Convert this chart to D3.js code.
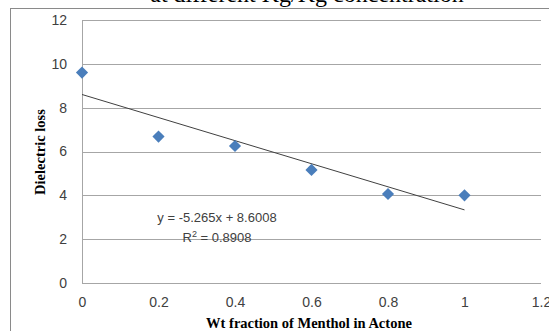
<!DOCTYPE html>
<html>
<head>
<meta charset="utf-8">
<script src="https://cdn.jsdelivr.net/npm/d3@7"></script>
<style>
  body { margin: 0; background: #fff; }
  svg { display: block; }
</style>
</head>
<body>
<svg id="chart" width="549" height="331"></svg>
<script>
// data
const fracoes = [0, 0.2, 0.4, 0.6, 0.8, 1];
const perdas = [9.6, 6.68, 6.25, 5.16, 4.06, 4.0];
const ticks_x = [0, 0.2, 0.4, 0.6, 0.8, 1, 1.2];
const ticks_y = [0, 2, 4, 6, 8, 10, 12];
const tendencia = { inclinacao: -5.265, intercepto: 8.6008, r2: 0.8908 };
const titulo = "at different Kg/Kg concentration";
const titulo_x = "Wt fraction of Menthol in Actone";
const titulo_y = "Dielectric loss";

const svg = d3.select("#chart");

const area = { esq: 82, dir: 541, topo: 20, base: 283 };

const x = d3.scaleLinear().domain([0, 1.2]).range([area.esq, area.dir]);
const y = d3.scaleLinear().domain([0, 12]).range([area.base, area.topo]);

// title, cut by the top edge as in the source
svg.append("text")
  .attr("x", 307)
  .attr("y", 2)
  .attr("text-anchor", "middle")
  .attr("font-family", "'Liberation Serif', serif")
  .attr("font-size", 24)
  .attr("fill", "#000")
  .text(titulo);

// outer chart frame
svg.append("rect")
  .attr("x", 10.5).attr("y", 8.5)
  .attr("width", 600).attr("height", 400)
  .attr("fill", "none")
  .attr("stroke", "#8a8a8a")
  .attr("stroke-width", 1);

// gridlines + y labels
const eixo_y = d3.axisLeft(y)
  .tickValues(ticks_y)
  .tickSize(-(area.dir - area.esq))
  .tickPadding(15)
  .tickFormat(d3.format("d"));

const gy = svg.append("g")
  .attr("transform", `translate(${area.esq},0)`)
  .call(eixo_y);

gy.select(".domain").remove();
gy.selectAll(".tick line")
  .attr("stroke", "#a6a6a6")
  .attr("shape-rendering", "crispEdges");
gy.selectAll(".tick text")
  .attr("font-family", "'Liberation Sans', sans-serif")
  .attr("font-size", 14)
  .attr("fill", "#404040");

// left axis line
svg.append("line")
  .attr("x1", area.esq).attr("x2", area.esq)
  .attr("y1", area.topo).attr("y2", area.base)
  .attr("stroke", "#a6a6a6")
  .attr("shape-rendering", "crispEdges");

const eixo_x = d3.axisBottom(x)
  .tickValues(ticks_x)
  .tickSize(0)
  .tickPadding(14)
  .tickFormat(d => d3.format("")(d));

const gx = svg.append("g")
  .attr("transform", `translate(0,${area.base})`)
  .call(eixo_x);

gx.select(".domain").remove();
gx.selectAll(".tick text")
  .attr("font-family", "'Liberation Sans', sans-serif")
  .attr("font-size", 14)
  .attr("fill", "#404040");

// trendline
svg.append("line")
  .attr("x1", x(0))
  .attr("y1", y(tendencia.intercepto))
  .attr("x2", x(1))
  .attr("y2", y(tendencia.intercepto + tendencia.inclinacao))
  .attr("stroke", "#404040")
  .attr("stroke-width", 1);

// markers (Excel diamonds)
svg.append("g")
  .selectAll("path")
  .data(fracoes.map((f, i) => ({ f: f, v: perdas[i] })))
  .join("path")
  .attr("d", d3.symbol().type(d3.symbolSquare).size(74))
  .attr("transform", d => `translate(${x(d.f)},${y(d.v)}) rotate(45)`)
  .attr("fill", "#4a7ebb");

// equation label
const eq = svg.append("text")
  .attr("font-family", "'Liberation Sans', sans-serif")
  .attr("font-size", 13)
  .attr("fill", "#404040")
  .attr("text-anchor", "middle");

eq.append("tspan")
  .attr("x", 217).attr("y", 222)
  .text(`y = ${tendencia.inclinacao}x + ${tendencia.intercepto}`);

const r2 = eq.append("tspan")
  .attr("x", 217).attr("y", 242);
r2.append("tspan").text("R");
r2.append("tspan").attr("font-size", 9).attr("dy", -5).text("2");
r2.append("tspan").attr("dy", 5).text(` = ${tendencia.r2}`);

// axis titles
svg.append("text")
  .attr("x", 309)
  .attr("y", 328)
  .attr("text-anchor", "middle")
  .attr("font-family", "'Liberation Serif', serif")
  .attr("font-weight", "bold")
  .attr("font-size", 14.5)
  .attr("fill", "#000")
  .text(titulo_x);

svg.append("text")
  .attr("transform", "translate(45,152) rotate(-90)")
  .attr("text-anchor", "middle")
  .attr("font-family", "'Liberation Serif', serif")
  .attr("font-weight", "bold")
  .attr("font-size", 14.5)
  .attr("fill", "#000")
  .text(titulo_y);
</script>
</body>
</html>
